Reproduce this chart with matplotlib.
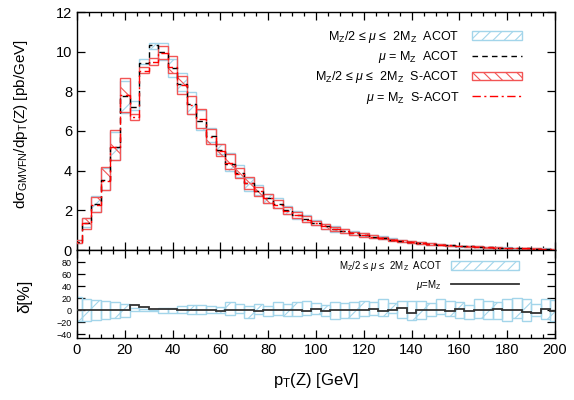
import numpy as np
import matplotlib
matplotlib.use('Agg')
import matplotlib.pyplot as plt
from matplotlib.patches import Patch
from matplotlib.lines import Line2D

# ---------------- data ----------------
pt_centers = [0, 4, 8, 12, 16, 20, 24, 28, 32, 36, 40, 44, 48, 52, 56, 60, 64, 68, 72, 76,
              80, 84, 88, 92, 96, 100, 104, 108, 112, 116, 120, 124, 128, 132, 136, 140,
              144, 148, 152, 156, 160, 164, 168, 172, 176, 180, 184, 188, 192, 196, 200]
bin_width = 4.0

acot_central = [0.42, 1.38, 2.30, 3.55, 5.20, 7.75, 7.20, 9.45, 10.35, 10.00, 9.20, 8.35, 7.35,
                6.50, 5.75, 5.05, 4.35, 3.90, 3.40, 3.00, 2.62, 2.30, 2.00, 1.75, 1.55, 1.35,
                1.20, 1.07, 0.95, 0.85, 0.76, 0.68, 0.60, 0.52, 0.46, 0.40, 0.35, 0.30, 0.26,
                0.23, 0.20, 0.18, 0.16, 0.14, 0.12, 0.11, 0.095, 0.085, 0.075, 0.065, 0.058]

sacot_central = [0.40, 1.35, 2.28, 3.50, 5.20, 7.80, 6.70, 9.05, 9.50, 9.95, 9.25, 8.30, 7.30,
                 6.60, 5.70, 5.00, 4.40, 3.85, 3.38, 2.95, 2.60, 2.28, 1.98, 1.76, 1.53, 1.34,
                 1.19, 1.06, 0.95, 0.84, 0.75, 0.67, 0.59, 0.52, 0.45, 0.40, 0.35, 0.30, 0.26,
                 0.23, 0.20, 0.18, 0.16, 0.14, 0.12, 0.105, 0.095, 0.085, 0.075, 0.066, 0.058]

# scale band of ACOT, percent above / below the central value
acot_up = [21.5, 18.6, 17.5, 15.8, 14.0, 10.0, 4.0, 2.0, 1.0, 4.5, 4.5, 7.0, 8.5, 8.5, 7.0, 6.0,
           13.0, 10.0, 7.0, 10.0, 7.0, 13.0, 11.0, 13.0, 15.0, 12.0, 9.0, 13.0, 12.0, 13.0,
           15.0, 14.0, 18.0, 12.0, 15.0, 16.0, 15.0, 12.0, 18.0, 16.0, 13.0, 8.0, 18.0, 16.0,
           13.0, 18.0, 20.0, 19.0, 10.0, 18.0, 17.0]
acot_dn = [18.0, 17.0, 16.4, 15.3, 12.4, 11.0, 2.0, 1.0, 2.0, 4.0, 5.0, 4.0, 7.0, 7.0, 5.0, 4.0,
           8.0, 5.0, 12.0, 7.0, 10.0, 8.5, 10.0, 10.0, 8.5, 6.0, 10.0, 15.0, 12.0, 13.0, 10.0,
           8.0, 10.0, 5.0, 12.0, 16.0, 15.0, 10.0, 7.0, 9.0, 12.0, 15.0, 12.0, 15.0, 14.0,
           18.0, 13.0, 18.0, 10.0, 15.0, 17.0]

# scale band of S-ACOT, percent above / below the central value
sacot_up = [20.0, 20.0, 17.0, 19.0, 16.0, 11.0, 2.0, 2.0, 2.0, 3.5, 6.0, 5.5, 6.5, 8.0, 7.0, 6.5,
            10.0, 8.0, 9.0, 8.0, 8.0, 10.0, 9.0, 10.0, 11.0, 10.0, 9.0, 11.0, 10.0, 11.0,
            12.0, 12.0, 13.0, 11.0, 12.0, 13.0, 12.0, 11.0, 14.0, 13.0, 12.0, 10.0, 14.0,
            13.0, 12.0, 14.0, 15.0, 15.0, 11.0, 14.0, 14.0]
sacot_dn = [18.0, 22.0, 16.0, 14.0, 13.0, 11.0, 2.0, 1.5, 2.0, 3.0, 3.5, 5.0, 6.0, 7.0, 6.0, 5.0,
            7.0, 6.0, 9.0, 7.0, 8.0, 8.0, 9.0, 9.0, 8.0, 7.0, 9.0, 11.0, 10.0, 11.0, 10.0,
            9.0, 10.0, 8.0, 11.0, 12.0, 12.0, 10.0, 9.0, 10.0, 11.0, 12.0, 11.0, 12.0, 12.0,
            14.0, 12.0, 14.0, 10.0, 13.0, 14.0]

# lower panel line (mu = M_Z), percent
ratio_line = [0.0, 0.0, 0.0, 0.0, 0.0, 0.0, 8.5, 5.6, 2.8, 1.7, 1.7, 1.1, 1.1, 1.1, 1.1, -1.7,
              1.1, 1.1, 0.5, -1.1, 0.5, 0.5, 0.5, 1.0, -0.5, 1.5, -1.0, 0.5, 1.0, 0.5, 0.5,
              2.5, -2.0, 0.5, 4.5, -4.0, 0.5, 1.0, 0.5, -0.5, 1.5, -2.0, 1.0, 0.5, 2.0, 0.5,
              1.0, -3.0, -4.0, 2.5, -1.0]

# ---------------- style ----------------
plt.rcParams['font.family'] = ['Liberation Sans', 'DejaVu Sans']
plt.rcParams['mathtext.fontset'] = 'custom'
plt.rcParams['mathtext.rm'] = 'Liberation Sans'
plt.rcParams['mathtext.it'] = 'Liberation Sans:italic'
plt.rcParams['hatch.linewidth'] = 0.8

BLUE = '#a3d5ea'
RED = '#f25555'

pt = np.array(pt_centers, dtype=float)
edges = np.append(pt - bin_width / 2, pt[-1] + bin_width / 2)
ac = np.array(acot_central)
sc = np.array(sacot_central)
a_up, a_dn = np.array(acot_up), np.array(acot_dn)
s_up, s_dn = np.array(sacot_up), np.array(sacot_dn)

fig = plt.figure(figsize=(5.74, 4.0), dpi=100)
ax = fig.add_axes([0.134, 0.375, 0.833, 0.595])
axr = fig.add_axes([0.134, 0.155, 0.833, 0.22], sharex=ax)

# main panel
a_lo = ac * (1 - a_dn / 100)
a_hi = ac * (1 + a_up / 100)
ax.bar(pt, a_hi - a_lo, width=bin_width, bottom=a_lo, facecolor='none',
       edgecolor=BLUE, hatch='/', linewidth=1.0, zorder=2)
s_lo = sc * (1 - s_dn / 100)
s_hi = sc * (1 + s_up / 100)
ax.bar(pt, s_hi - s_lo, width=bin_width, bottom=s_lo, facecolor='none',
       edgecolor=RED, hatch='\\', linewidth=1.0, zorder=3)
ax.stairs(ac, edges, color='black', linestyle=(0, (4, 3)), linewidth=1.0, zorder=4)
ax.stairs(sc, edges, color='red', linestyle=(0, (6, 2.5, 1.5, 2.5)), linewidth=1.0, zorder=5)

ax.set_xlim(0, 200)
ax.set_ylim(0, 12)
ax.set_yticks(np.arange(0, 13, 2))
ax.set_xticks(np.arange(0, 201, 20))
ax.set_xticks(np.arange(0, 201, 5), minor=True)
ax.tick_params(which='both', direction='in', top=True, right=True, labelbottom=False,
               labelsize=10.5, width=0.9)
ax.tick_params(which='major', length=6)
ax.tick_params(which='minor', length=3)
ax.set_ylabel('dσ$_{\\rm GMVFN}$/dp$_{\\rm T}$(Z) [pb/GeV]', fontsize=11)
ax.yaxis.set_label_coords(-0.098, 0.53)

h_main = [Patch(facecolor='none', edgecolor=BLUE, hatch='///', linewidth=1.0),
          Line2D([], [], color='black', linestyle=(0, (4, 3)), linewidth=1.0),
          Patch(facecolor='none', edgecolor=RED, hatch='\\\\\\', linewidth=1.0),
          Line2D([], [], color='red', linestyle=(0, (6, 2.5, 1.5, 2.5)), linewidth=1.0)]
l_main = [r'M$_{\rm Z}$/2 ≤ $\mu$ ≤  2M$_{\rm Z}$  ACOT',
          r'$\mu$ = M$_{\rm Z}$  ACOT',
          r'M$_{\rm Z}$/2 ≤ $\mu$ ≤  2M$_{\rm Z}$  S-ACOT',
          r'$\mu$ = M$_{\rm Z}$  S-ACOT']
ax.legend(h_main, l_main, loc='upper right', bbox_to_anchor=(0.93, 0.93),
          frameon=False, markerfirst=False, fontsize=9, handlelength=4.0,
          handleheight=0.7, handletextpad=1.0, labelspacing=0.35, borderpad=0,
          borderaxespad=0)

# ratio panel
axr.bar(pt, a_up + a_dn, width=bin_width, bottom=-a_dn, facecolor='none',
        edgecolor=BLUE, hatch='/', linewidth=1.0, zorder=2)
axr.stairs(np.array(ratio_line), edges, color='#333333', linewidth=1.3, zorder=4)
axr.set_xlim(0, 200)
axr.set_ylim(-46, 100)
axr.set_yticks(np.arange(-40, 81, 20))
axr.set_xticks(np.arange(0, 201, 20))
axr.set_xticks(np.arange(0, 201, 5), minor=True)
axr.tick_params(which='both', direction='in', top=True, right=True, width=0.9)
axr.tick_params(axis='x', labelsize=10.5)
axr.tick_params(axis='y', labelsize=6.5)
axr.tick_params(which='major', length=6)
axr.tick_params(which='minor', length=3)
axr.set_xlabel(r'p$_{\rm T}$(Z) [GeV]', fontsize=12)
axr.xaxis.set_label_coords(0.5, -0.37)
axr.set_ylabel('δ[%]', fontsize=12)
axr.yaxis.set_label_coords(-0.094, 0.47)

h_r = [Patch(facecolor='none', edgecolor=BLUE, hatch='///', linewidth=1.0),
       Line2D([], [], color='#333333', linewidth=1.3)]
l_r = [r'M$_{\rm Z}$/2 ≤ $\mu$ ≤  2M$_{\rm Z}$  ACOT', r'$\mu$=M$_{\rm Z}$']
axr.legend(h_r, l_r, loc='upper right', bbox_to_anchor=(0.925, 0.9),
           frameon=False, markerfirst=False, fontsize=7, handlelength=7.0,
           handleheight=1.0, handletextpad=1.0, labelspacing=0.5, borderpad=0,
           borderaxespad=0)

for a in (ax, axr):
    for s in a.spines.values():
        s.set_linewidth(1.0)

fig.savefig('out.png', dpi=100)
